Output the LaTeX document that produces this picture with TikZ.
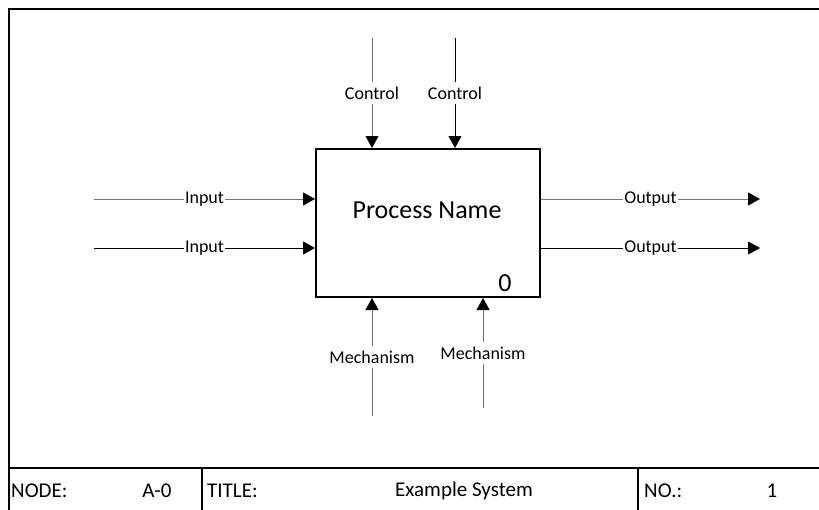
\documentclass[tikz,border=0pt]{standalone}
\usepackage{fontspec}
\setmainfont{Carlito}
\usetikzlibrary{arrows.meta}
\tikzset{
  flow/.style={line width=1pt, -{Triangle[length=12pt,width=13pt,color=black]}},
  flowgray/.style={flow, draw=black!55},
  lbl/.style={fill=white, inner xsep=1pt, inner ysep=5pt, font=\fontsize{18}{20}\selectfont},
  frameline/.style={line width=2pt},
  cell/.style={font=\fontsize{21}{24}\selectfont, inner sep=0pt},
}
\begin{document}
\begin{tikzpicture}[x=1pt,y=-1pt]
\useasboundingbox (0,0) rectangle (819,509);

% sheet frame and title row
\draw[frameline] (9,520) -- (9,9) -- (830,9);
\draw[frameline] (9,468) -- (830,468);
\draw[frameline] (202,468) -- (202,520);
\draw[frameline] (638,468) -- (638,520);

\node[cell, anchor=west] (node) at (11,491) {NODE:};
\node[cell] (nodeval) at (157,491) {A-0};
\node[cell, anchor=west] (title) at (207,491) {TITLE:};
\node[cell] (titleval) at (464,491) {Example System};
\node[cell, anchor=west] (no) at (644,491) {NO.:};
\node[cell] (noval) at (772,491) {1};

% activity box
\node[draw, line width=2pt, minimum width=224pt, minimum height=148pt, inner sep=0pt] (proc) at (428,223) {};
\node[font=\fontsize{26}{30}\selectfont] (pname) at (427,210) {Process Name};
\node[font=\fontsize{26}{30}\selectfont] (pnum) at (505,283) {0};

% free ends of the arrows
\coordinate (c1) at (372,38);
\coordinate (c2) at (455,38);
\coordinate (i1) at (94,199);
\coordinate (i2) at (94,248);
\coordinate (o1) at (760,199);
\coordinate (o2) at (760,248);
\coordinate (m1) at (372,416);
\coordinate (m2) at (483,408);

% controls
\draw[flowgray] (c1) -- node[lbl] (lc1) {Control} (c1 |- proc.north);
\draw[flow] (c2) -- node[lbl] (lc2) {Control} (c2 |- proc.north);
% inputs
\draw[flowgray] (i1) -- node[lbl] (li1) {Input} (i1 -| proc.west);
\draw[flow] (i2) -- node[lbl] (li2) {Input} (i2 -| proc.west);
% outputs
\draw[flowgray] (o1 -| proc.east) -- node[lbl] (lo1) {Output} (o1);
\draw[flow] (o2 -| proc.east) -- node[lbl] (lo2) {Output} (o2);
% mechanisms
\draw[flowgray] (m1) -- node[lbl] (lm1) {Mechanism} (m1 |- proc.south);
\draw[flowgray] (m2) -- node[lbl] (lm2) {Mechanism} (m2 |- proc.south);
\end{tikzpicture}
\end{document}
